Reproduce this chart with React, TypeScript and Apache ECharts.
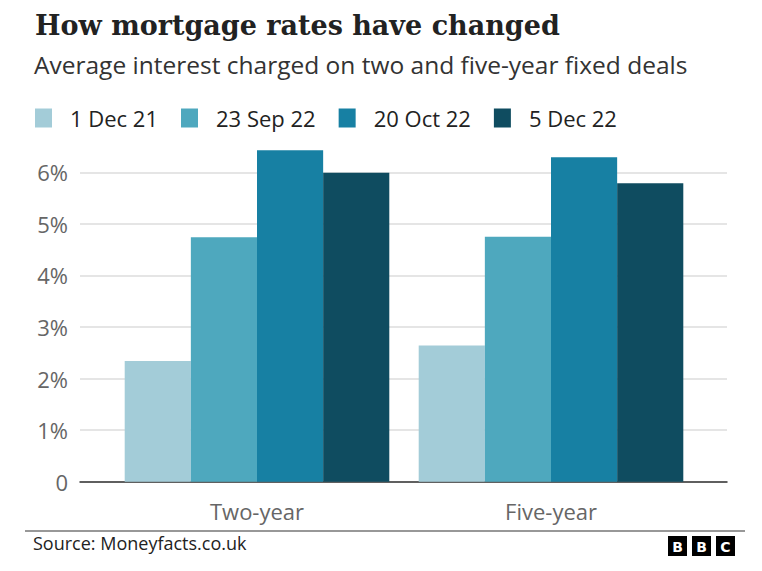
import React, { useEffect, useRef } from "react";
import * as echarts from "echarts";

const categories = ["Two-year", "Five-year"];
const seriesNames = ["1 Dec 21", "23 Sep 22", "20 Oct 22", "5 Dec 22"];
const dec21 = [2.34, 2.64];
const sep22 = [4.74, 4.75];
const oct22 = [6.43, 6.29];
const dec22 = [5.99, 5.79];
const seriesValues = [dec21, sep22, oct22, dec22];
const colors = ["#a3ccd8", "#4ea8be", "#1780a3", "#0f4c60"];
const yTicks = [0, 1, 2, 3, 4, 5, 6];

const SANS = "'Open Sans', 'Noto Sans', sans-serif";

export default function App() {
  const ref = useRef<HTMLDivElement>(null);
  useEffect(() => {
    document.body.style.margin = "0";
    const chart = echarts.init(ref.current!, null, { renderer: "svg" });
    const option: any = {
      animation: false,
      backgroundColor: "#ffffff",
      textStyle: { fontFamily: SANS },
      legend: {
        left: 30,
        top: 102,
        icon: "rect",
        itemWidth: 17,
        itemHeight: 19,
        itemGap: 23,
        data: seriesNames,
        textStyle: { fontSize: 22, color: "#222222", fontFamily: SANS, padding: [0, 0, 0, 13] },
      },
      grid: [
        { left: 80, right: 35, top: 172.3, bottom: 89.3 },
        { left: 110, right: 64, top: 172.3, bottom: 89.3 },
      ],
      xAxis: [
        {
          gridIndex: 0,
          type: "category",
          data: [""],
          axisLine: { show: true, lineStyle: { color: "#333333", width: 1.5 } },
          axisTick: { show: false },
          axisLabel: { show: false },
        },
        {
          gridIndex: 1,
          type: "category",
          data: categories,
          axisLine: { show: false },
          axisTick: { show: false },
          axisLabel: { color: "#666666", fontSize: 22, margin: 18, fontFamily: SANS },
        },
      ],
      yAxis: [
        {
          gridIndex: 0,
          type: "value",
          min: yTicks[0],
          max: yTicks[yTicks.length - 1],
          interval: 1,
          axisLine: { show: false },
          axisTick: { show: false },
          axisLabel: {
            color: "#666666",
            fontSize: 22,
            margin: 12,
            fontFamily: SANS,
            formatter: (v: number) => (v === 0 ? "0" : v + "%"),
          },
          splitLine: { lineStyle: { color: "#dddddd", width: 1.5 } },
        },
        {
          gridIndex: 1,
          type: "value",
          min: yTicks[0],
          max: yTicks[yTicks.length - 1],
          show: false,
          splitLine: { show: false },
        },
      ],
      series: seriesNames.map((name, i) => ({
        name,
        type: "bar",
        xAxisIndex: 1,
        yAxisIndex: 1,
        data: seriesValues[i],
        itemStyle: { color: colors[i] },
        barGap: "0%",
        barCategoryGap: "10%",
        clip: false,
        z: 3,
      })),
      graphic: [
        {
          type: "text",
          left: 35,
          top: 12,
          style: {
            text: "How mortgage rates have changed",
            font: "bold 27px 'DejaVu Serif', serif",
            fill: "#222222",
          },
        },
        {
          type: "text",
          left: 34,
          top: 52,
          style: {
            text: "Average interest charged on two and five-year fixed deals",
            font: "24.5px " + SANS,
            fill: "#333333",
          },
        },
        {
          type: "line",
          shape: { x1: 25, y1: 531, x2: 745, y2: 531 },
          style: { stroke: "#333333", lineWidth: 1.2 },
        },
        {
          type: "text",
          left: 33,
          top: 534,
          style: {
            text: "Source: Moneyfacts.co.uk",
            font: "18px " + SANS,
            fill: "#222222",
          },
        },
        ...["B", "B", "C"].map((ch, i) => ({
          type: "group",
          left: 668 + i * 24,
          top: 536,
          children: [
            { type: "rect", shape: { x: 0, y: 0, width: 19, height: 20 }, style: { fill: "#000000" } },
            {
              type: "text",
              x: 9.5,
              y: 10.5,
              style: {
                text: ch,
                font: "bold 14px 'DejaVu Sans', sans-serif",
                fill: "#ffffff",
                textAlign: "center",
                textVerticalAlign: "middle",
              },
            },
          ],
        })),
      ],
    };
    chart.setOption(option);
    return () => chart.dispose();
  }, []);
  return <div ref={ref} style={{ width: 762, height: 571 }} />;
}
